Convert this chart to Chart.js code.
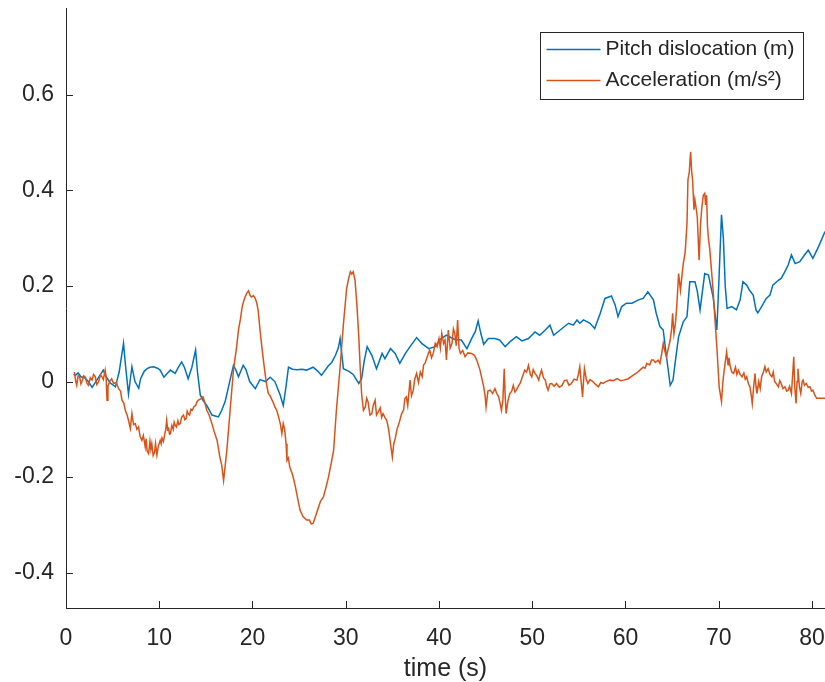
<!DOCTYPE html>
<html>
<head>
<meta charset="utf-8">
<script src="https://cdn.jsdelivr.net/npm/chart.js@4/dist/chart.umd.min.js"></script>
<style>
  html, body { margin: 0; padding: 0; background: #fff; overflow: hidden; }
  canvas { display: block; }
</style>
</head>
<body>
<canvas id="chart" width="825" height="682"></canvas>
<script>
// tick labels
var xTicks = [0, 10, 20, 30, 40, 50, 60, 70, 80];
var yTicks = [-0.4, -0.2, 0, 0.2, 0.4, 0.6];

var seriesLabels = ['Pitch dislocation (m)', 'Acceleration (m/s\u00B2)'];

// pitch dislocation (m)
var pitchT = [0.8, 1.0, 1.3, 1.6, 2.0, 2.4, 2.8, 3.2, 3.6, 4.0, 4.3, 4.75, 5.3, 5.7, 6.17, 6.4, 6.7, 7.07, 7.4, 7.8,
  8.0, 8.4, 8.7, 9.0, 9.4, 9.8, 10.1, 10.5, 10.8, 11.2, 11.7, 12.0, 12.4, 12.7, 13.1, 13.5, 13.9, 14.1, 14.4, 14.7,
  15.1, 15.65, 16.0, 16.35, 16.7, 17.07, 17.5, 17.96, 18.2, 18.5, 19.0, 19.3, 19.7, 20.3, 20.8, 21.4, 21.9, 22.4, 22.97, 23.3,
  23.6, 23.86, 24.3, 24.76, 25.3, 25.8, 26.5, 27.0, 27.4, 28.1, 28.5, 28.9, 29.2, 29.4, 29.75, 30.3, 30.8, 31.4, 31.7, 32.0,
  32.3, 32.8, 33.3, 33.9, 34.2, 34.8, 35.3, 35.8, 36.4, 36.9, 37.6, 38.15, 38.9, 39.6, 40.1, 40.8, 41.7, 42.4, 43.0, 43.5,
  43.9, 44.2, 44.5, 44.8, 45.3, 46.0, 46.5, 47.1, 47.6, 48.3, 48.9, 49.6, 50.3, 50.8, 51.4, 51.9, 52.3, 53.0, 53.9, 54.4,
  54.8, 55.1, 55.5, 56.2, 56.7, 57.3, 57.8, 58.5, 58.9, 59.2, 59.6, 60.1, 60.7, 61.4, 61.9, 62.4, 63.0, 63.3, 63.7, 64.05,
  64.4, 64.8, 65.1, 65.4, 65.7, 66.2, 66.6, 66.9, 67.45, 67.7, 68.0, 68.5, 68.9, 69.4, 69.8, 70.0, 70.3, 70.5, 70.7, 70.9,
  71.4, 71.9, 72.3, 72.6, 73.0, 73.3, 73.7, 74.0, 74.2, 74.6, 75.1, 75.5, 75.8, 76.4, 76.7, 77.1, 77.45, 77.8, 78.2, 78.7,
  79.2, 79.6, 80.1, 80.7, 81.4];
var pitchV = [0.015, 0.013, 0.018, 0.01, 0.008, 0.0, -0.012, 0.0, 0.012, 0.024, 0.01, -0.003, -0.011, 0.02, 0.08, 0.03, -0.026, 0.031, 0.0, -0.014,
  0.006, 0.022, 0.027, 0.03, 0.031, 0.028, 0.024, 0.009, 0.016, 0.024, 0.017, 0.028, 0.041, 0.03, 0.006, 0.03, 0.066, 0.02, -0.028, -0.04,
  -0.05, -0.07, -0.072, -0.074, -0.06, -0.042, -0.005, 0.034, 0.025, 0.01, 0.034, 0.025, 0.0, -0.015, 0.004, 0.0, 0.009, 0.0, -0.028, -0.05,
  -0.01, 0.03, 0.026, 0.025, 0.026, 0.024, 0.03, 0.022, 0.013, 0.032, 0.04, 0.055, 0.07, 0.09, 0.027, 0.022, 0.015, -0.004, 0.006, 0.045,
  0.073, 0.055, 0.027, 0.059, 0.048, 0.069, 0.059, 0.038, 0.059, 0.073, 0.092, 0.08, 0.069, 0.073, 0.088, 0.097, 0.088, 0.087, 0.069, 0.09,
  0.105, 0.127, 0.1, 0.078, 0.09, 0.09, 0.087, 0.073, 0.083, 0.094, 0.085, 0.09, 0.104, 0.097, 0.108, 0.118, 0.097, 0.108, 0.122, 0.118,
  0.129, 0.122, 0.129, 0.122, 0.111, 0.143, 0.174, 0.179, 0.16, 0.136, 0.157, 0.164, 0.164, 0.171, 0.174, 0.188, 0.171, 0.143, 0.115, 0.108,
  0.052, -0.008, 0.003, 0.05, 0.094, 0.125, 0.136, 0.209, 0.209, 0.19, 0.15, 0.226, 0.223, 0.177, 0.108, 0.2, 0.349, 0.3, 0.2, 0.153,
  0.157, 0.15, 0.171, 0.209, 0.202, 0.191, 0.181, 0.15, 0.144, 0.157, 0.174, 0.181, 0.202, 0.212, 0.216, 0.23, 0.244, 0.265, 0.247, 0.251,
  0.265, 0.275, 0.258, 0.282, 0.314];

// acceleration (m/s^2)
var accT = [0.9, 1.05, 1.15, 1.3, 1.46, 1.6, 1.71, 1.9, 2.07, 2.25,
  2.42, 2.6, 2.79, 2.95, 3.14, 3.3, 3.5, 3.7, 3.86, 4.0,
  4.2, 4.3, 4.4, 4.5, 4.67, 4.9, 5.1, 5.4, 5.64, 5.85,
  6.0, 6.2, 6.36, 6.55, 6.7, 6.9, 7.07, 7.25, 7.43, 7.6,
  7.78, 7.95, 8.14, 8.3, 8.5, 8.6, 8.7, 8.86, 9.0, 9.1,
  9.2, 9.35, 9.5, 9.6, 9.75, 9.9, 10.1, 10.2, 10.3, 10.45,
  10.6, 10.7, 10.8, 10.9, 11.0, 11.1, 11.2, 11.35, 11.5, 11.6,
  11.7, 11.85, 12.0, 12.1, 12.25, 12.4, 12.6, 12.75, 12.9, 13.0,
  13.1, 13.25, 13.4, 13.55, 13.7, 13.9, 14.05, 14.2, 14.45, 14.7,
  14.9, 15.1, 15.35, 15.65, 15.9, 16.2, 16.35, 16.5, 16.7, 16.9,
  17.05, 17.25, 17.6, 17.96, 18.3, 18.5, 18.7, 18.9, 19.05, 19.2,
  19.4, 19.57, 19.75, 19.9, 20.1, 20.3, 20.45, 20.6, 20.8, 21.0,
  21.2, 21.4, 21.55, 21.7, 21.9, 22.1, 22.25, 22.4, 22.6, 22.8,
  23.0, 23.15, 23.3, 23.45, 23.6, 23.7, 23.85, 24.0, 24.3, 24.6,
  24.85, 25.1, 25.4, 25.8, 26.1, 26.3, 26.5, 26.8, 27.1, 27.3,
  27.6, 27.9, 28.15, 28.45, 28.7, 29.0, 29.4, 29.75, 30.1, 30.3,
  30.5, 30.65, 30.8, 31.0, 31.2, 31.4, 31.55, 31.7, 31.9, 32.1,
  32.25, 32.4, 32.6, 32.8, 32.95, 33.15, 33.3, 33.5, 33.7, 33.85,
  34.0, 34.2, 34.4, 34.6, 34.8, 35.0, 35.15, 35.3, 35.5, 35.75,
  36.0, 36.2, 36.35, 36.5, 36.65, 36.9, 37.05, 37.25, 37.4, 37.6,
  37.8, 38.0, 38.2, 38.35, 38.5, 38.7, 39.0, 39.2, 39.4, 39.6,
  39.8, 40.0, 40.15, 40.3, 40.5, 40.65, 40.8, 41.0, 41.2, 41.4,
  41.55, 41.7, 41.85, 42.0, 42.15, 42.3, 42.55, 42.8, 43.1, 43.5,
  43.8, 44.05, 44.4, 44.8, 44.95, 45.05, 45.25, 45.5, 45.75, 46.0,
  46.2, 46.4, 46.55, 46.7, 46.85, 47.0, 47.1, 47.2, 47.4, 47.6,
  47.8, 47.97, 48.15, 48.3, 48.5, 48.7, 48.95, 49.2, 49.4, 49.6,
  49.8, 49.95, 50.1, 50.3, 50.5, 50.7, 50.85, 51.0, 51.2, 51.4,
  51.55, 51.7, 51.9, 52.1, 52.35, 52.6, 52.9, 53.2, 53.45, 53.7,
  53.95, 54.2, 54.5, 54.8, 54.95, 55.1, 55.25, 55.4, 55.5, 55.6,
  55.8, 55.97, 56.2, 56.5, 56.8, 57.1, 57.35, 57.6, 57.9, 58.3,
  58.7, 59.1, 59.5, 59.8, 60.3, 60.8, 61.2, 61.55, 61.9, 62.1,
  62.3, 62.6, 62.8, 63.0, 63.2, 63.5, 63.7, 63.9, 64.05, 64.2,
  64.4, 64.6, 64.8, 64.95, 65.06, 65.2, 65.35, 65.5, 65.7, 65.9,
  66.05, 66.2, 66.4, 66.6, 66.7, 66.85, 66.99, 67.1, 67.2, 67.35,
  67.45, 67.6, 67.7, 67.8, 67.9, 68.05, 68.2, 68.35, 68.5, 68.6,
  68.7, 68.8, 68.9, 69.05, 69.4, 69.6, 69.8, 70.05, 70.2, 70.3,
  70.45, 70.55, 70.7, 70.85, 71.0, 71.1, 71.2, 71.4, 71.6, 71.8,
  71.95, 72.1, 72.3, 72.5, 72.7, 72.85, 73.0, 73.2, 73.35, 73.5,
  73.6, 73.75, 73.9, 74.0, 74.1, 74.3, 74.45, 74.6, 74.8, 74.95,
  75.1, 75.3, 75.5, 75.7, 75.85, 76.0, 76.2, 76.4, 76.55, 76.7,
  76.9, 77.1, 77.3, 77.45, 77.6, 77.8, 77.95, 78.05, 78.15, 78.3,
  78.4, 78.5, 78.65, 78.8, 78.95, 79.05, 79.2, 79.4, 79.6, 79.8,
  79.95, 80.1, 80.3, 80.5, 81.4];
var accV = [0.02, 0.0, -0.008, 0.012, 0.01, -0.005, 0.0, 0.012, 0.009, -0.004,
  -0.008, 0.008, 0.003, 0.015, 0.01, -0.006, 0.0, 0.014, 0.01, 0.004,
  0.024, 0.01, -0.039, -0.01, 0.0, 0.006, -0.004, -0.002, -0.015, -0.02,
  -0.039, -0.045, -0.06, -0.07, -0.081, -0.098, -0.067, -0.09, -0.088, -0.1,
  -0.095, -0.115, -0.123, -0.113, -0.137, -0.12, -0.145, -0.151, -0.125, -0.142,
  -0.13, -0.155, -0.148, -0.13, -0.154, -0.135, -0.123, -0.13, -0.118, -0.125,
  -0.109, -0.1, -0.081, -0.1, -0.098, -0.11, -0.109, -0.092, -0.1, -0.085,
  -0.091, -0.095, -0.082, -0.09, -0.088, -0.075, -0.07, -0.08, -0.077, -0.062,
  -0.067, -0.07, -0.058, -0.06, -0.053, -0.05, -0.042, -0.039, -0.036, -0.032,
  -0.045, -0.06, -0.07, -0.088, -0.105, -0.123, -0.14, -0.158, -0.175, -0.207,
  -0.18, -0.144, -0.06, 0.024, 0.073, 0.108, 0.13, 0.157, 0.168, 0.177,
  0.185, 0.19, 0.18, 0.177, 0.18, 0.174, 0.165, 0.15, 0.11, 0.073,
  0.04, 0.01, -0.01, -0.025, -0.03, -0.039, -0.045, -0.053, -0.06, -0.074,
  -0.09, -0.109, -0.088, -0.1, -0.13, -0.165, -0.16, -0.179, -0.195, -0.22,
  -0.245, -0.269, -0.282, -0.29, -0.29, -0.298, -0.297, -0.28, -0.262, -0.25,
  -0.242, -0.22, -0.2, -0.17, -0.144, -0.06, 0.031, 0.12, 0.195, 0.215,
  0.23, 0.225, 0.23, 0.212, 0.16, 0.094, 0.03, -0.025, -0.06, -0.053,
  -0.035, -0.043, -0.07, -0.067, -0.05, -0.039, -0.07, -0.063, -0.055, -0.075,
  -0.067, -0.075, -0.081, -0.1, -0.13, -0.158, -0.13, -0.12, -0.1, -0.085,
  -0.067, -0.06, -0.035, -0.032, -0.05, 0.003, -0.03, -0.018, 0.005, 0.017,
  -0.002, 0.02, 0.01, 0.035, 0.038, 0.05, 0.066, 0.05, 0.06, 0.08,
  0.073, 0.09, 0.07, 0.101, 0.08, 0.087, 0.045, 0.108, 0.07, 0.08,
  0.11, 0.101, 0.075, 0.129, 0.07, 0.059, 0.065, 0.052, 0.06, 0.059,
  0.055, 0.045, 0.024, -0.011, -0.03, -0.053, -0.02, -0.018, -0.025, -0.015,
  -0.025, -0.032, -0.045, -0.06, -0.04, 0.027, -0.03, -0.067, -0.04, -0.025,
  -0.02, -0.008, -0.022, -0.018, -0.01, -0.004, 0.01, 0.024, 0.02, 0.034,
  0.015, 0.01, 0.025, 0.017, 0.012, 0.003, 0.015, 0.024, 0.008, 0.003,
  -0.01, -0.018, -0.005, -0.004, -0.01, -0.004, -0.012, -0.008, 0.002, 0.003,
  -0.008, -0.004, 0.005, 0.003, 0.015, 0.031, 0.0, -0.032, 0.0, 0.027,
  0.005, -0.004, 0.004, 0.0, -0.006, -0.011, -0.002, -0.004, 0.0, 0.003,
  0.002, 0.006, 0.002, 0.003, 0.006, 0.013, 0.018, 0.024, 0.03, 0.028,
  0.038, 0.035, 0.045, 0.045, 0.04, 0.045, 0.038, 0.06, 0.08, 0.065,
  0.052, 0.07, 0.087, 0.11, 0.143, 0.1, 0.12, 0.157, 0.226, 0.191,
  0.22, 0.247, 0.27, 0.331, 0.422, 0.44, 0.481, 0.44, 0.422, 0.36,
  0.38, 0.36, 0.345, 0.3, 0.254, 0.33, 0.366, 0.39, 0.394, 0.37,
  0.39, 0.324, 0.3, 0.275, 0.191, 0.13, 0.073, -0.011, -0.03, -0.042,
  0.0, 0.017, 0.04, 0.062, 0.035, 0.05, 0.035, 0.02, 0.017, 0.03,
  0.015, 0.024, 0.015, 0.01, 0.018, 0.005, 0.01, -0.005, -0.011, -0.03,
  -0.046, -0.01, 0.017, -0.01, -0.025, 0.0, -0.015, 0.01, 0.02, 0.031,
  0.02, 0.027, 0.015, 0.01, 0.02, 0.0, -0.005, -0.011, 0.002, -0.004,
  -0.015, -0.011, -0.02, -0.018, -0.01, -0.025, 0.02, 0.052, -0.01, -0.046,
  0.0, 0.027, -0.01, -0.025, 0.0, 0.003, -0.008, -0.004, -0.012, -0.011,
  -0.02, -0.018, -0.028, -0.035, -0.035];

var FONT = '"Liberation Sans", Arial, Helvetica, sans-serif';
var INK = '#262626';
var COLORS = ['#0072BD', '#D95319'];

function toPoints(ts, vs) {
  return ts.map(function(t, i) {
    return { x: t, y: vs[i] };
  });
}

// MATLAB style: inward ticks and a boxed legend inside the axes
var matlabAxes = {
  id: 'matlabAxes',
  afterDraw: function(chart) {
    var ctx = chart.ctx;
    var area = chart.chartArea;
    var xs = chart.scales.x;
    var ys = chart.scales.y;
    var len = 7;

    ctx.save();
    ctx.strokeStyle = INK;
    ctx.lineWidth = 1;
    ctx.beginPath();
    xTicks.forEach(function(v) {
      var px = Math.round(xs.getPixelForValue(v)) + 0.5;
      ctx.moveTo(px, area.bottom);
      ctx.lineTo(px, area.bottom - len);
    });
    yTicks.forEach(function(v) {
      var py = Math.round(ys.getPixelForValue(v)) + 0.5;
      ctx.moveTo(area.left, py);
      ctx.lineTo(area.left + len, py);
    });
    ctx.stroke();

    // legend
    var bx = 540.5, by = 32.5, bw = 263, bh = 67;
    ctx.fillStyle = '#fff';
    ctx.fillRect(bx, by, bw, bh);
    ctx.strokeStyle = INK;
    ctx.strokeRect(bx, by, bw, bh);
    ctx.font = '21px ' + FONT;
    ctx.textBaseline = 'middle';
    ctx.textAlign = 'left';
    chart.data.datasets.forEach(function(ds, i) {
      var ly = by + 17 + i * 31;
      ctx.strokeStyle = ds.borderColor;
      ctx.lineWidth = 1.5;
      ctx.beginPath();
      ctx.moveTo(bx + 6, ly);
      ctx.lineTo(bx + 60, ly);
      ctx.stroke();
      ctx.fillStyle = INK;
      ctx.fillText(ds.label, bx + 65, ly);
    });
    ctx.restore();
  }
};

new Chart(document.getElementById('chart'), {
  type: 'line',
  data: {
    datasets: [{
      label: seriesLabels[0],
      data: toPoints(pitchT, pitchV),
      borderColor: COLORS[0],
      borderWidth: 1.5,
      pointRadius: 0,
      tension: 0,
      order: 2
    }, {
      label: seriesLabels[1],
      data: toPoints(accT, accV),
      borderColor: COLORS[1],
      borderWidth: 1.5,
      pointRadius: 0,
      tension: 0,
      order: 1
    }]
  },
  options: {
    responsive: false,
    animation: false,
    devicePixelRatio: 1,
    layout: { padding: { top: 8, right: 0, bottom: 0, left: 0 } },
    plugins: {
      legend: { display: false },
      tooltip: { enabled: false }
    },
    scales: {
      x: {
        type: 'linear',
        min: 0,
        max: 81.4,
        afterBuildTicks: function(scale) {
          scale.ticks = xTicks.map(function(v) { return { value: v }; });
        },
        afterFit: function(scale) {
          scale.height = 74;
          scale.paddingLeft = 0;
          scale.paddingRight = 0;
        },
        grid: { display: false, drawTicks: false },
        border: { display: true, color: INK, width: 1 },
        ticks: {
          font: { family: FONT, size: 23 },
          color: INK,
          padding: 17,
          maxRotation: 0,
          autoSkip: false,
          callback: function(v) { return String(v); }
        },
        title: {
          display: true,
          text: 'time (s)',
          color: INK,
          font: { family: FONT, size: 25, lineHeight: 1 },
          padding: { top: 0, bottom: 0 }
        }
      },
      y: {
        type: 'linear',
        min: -0.474,
        max: 0.782,
        afterBuildTicks: function(scale) {
          scale.ticks = yTicks.map(function(v) { return { value: v }; });
        },
        afterFit: function(scale) {
          scale.width = 66;
          scale.paddingTop = 0;
          scale.paddingBottom = 0;
        },
        grid: { display: false, drawTicks: false },
        border: { display: true, color: INK, width: 1 },
        ticks: {
          font: { family: FONT, size: 23 },
          color: INK,
          padding: 12,
          callback: function(v) { return String(v); }
        }
      }
    }
  },
  plugins: [matlabAxes]
});
</script>
</body>
</html>
